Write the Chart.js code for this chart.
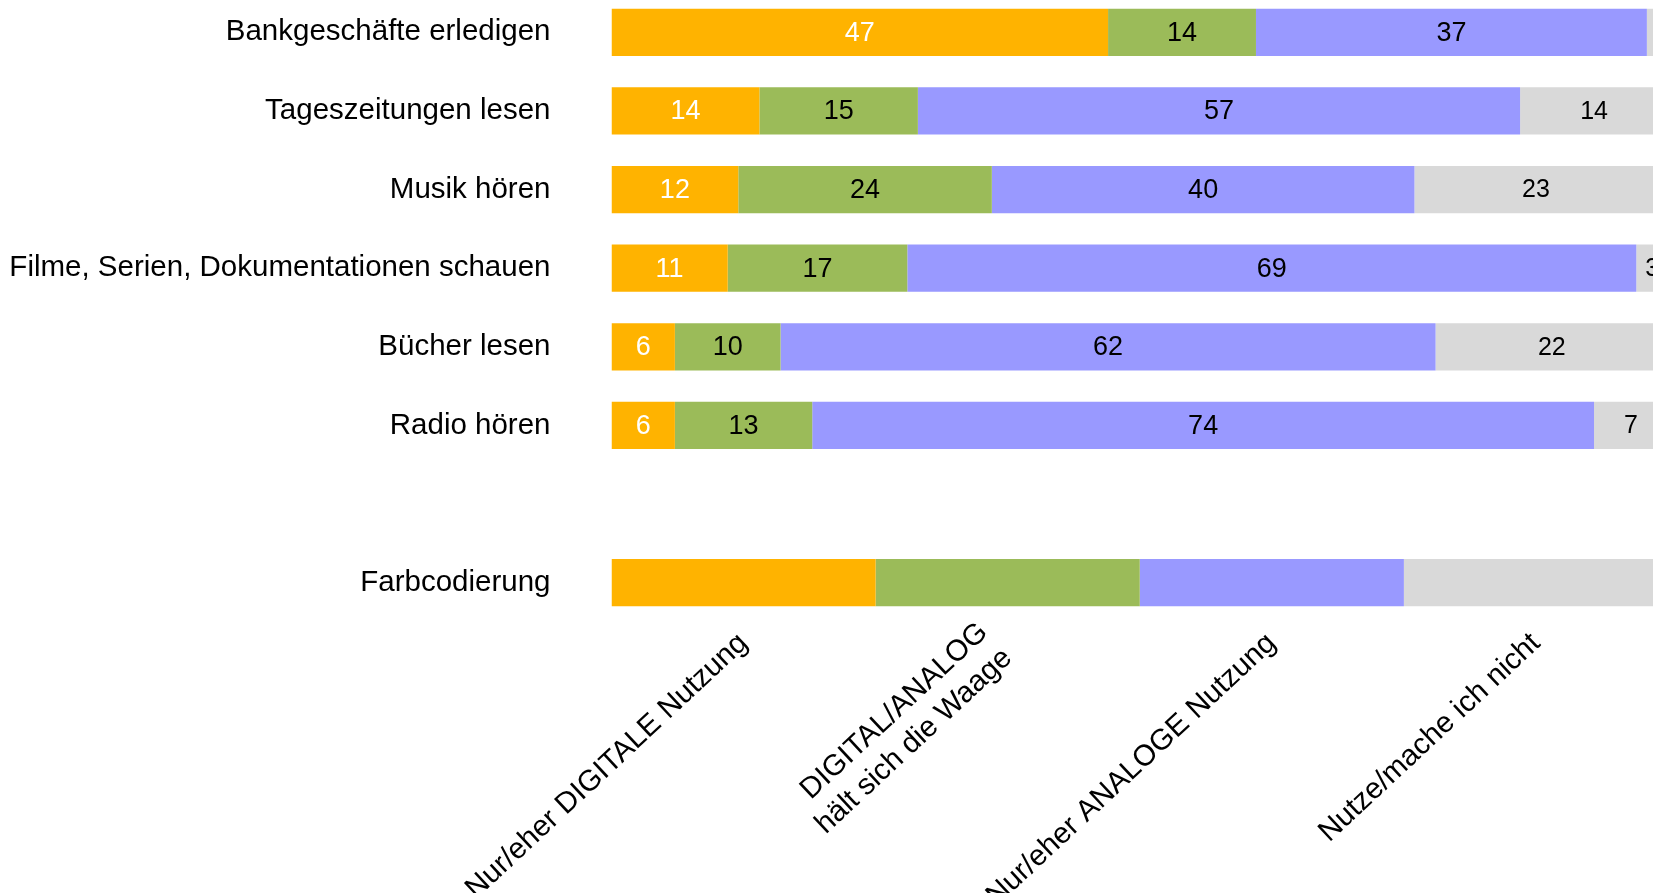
<!DOCTYPE html>
<html lang="de">
<head>
    <meta charset="UTF-8">
    <title>Digitale und analoge Nutzung</title>
    <script src="https://cdn.jsdelivr.net/npm/chart.js"></script>
</head>
<style>
html, body {
  margin: 0;
  padding: 0;
  overflow: hidden;
  background: #fff;
}
#myChart {
  position: absolute;
  left: 0;
  top: -7px;
}
</style>
<body>
    <canvas id="myChart" width="1668" height="900"></canvas>
</body>
<script>
// rows (empty row is the gap above the colour key)
const categories = ['Bankgeschäfte erledigen', 'Tageszeitungen lesen', 'Musik hören',
    'Filme, Serien, Dokumentationen schauen', 'Bücher lesen', 'Radio hören', '', 'Farbcodierung'];

// values in percent
const digital = [47, 14, 12, 11, 6, 6, null, 25];
const balance = [14, 15, 24, 17, 10, 13, null, 25];
const analog  = [37, 57, 40, 69, 62, 74, null, 25];
const notUsed = [3, 14, 23, 3, 22, 7, null, 25];

// labels under the colour key
const keyLabels = ['Nur/eher DIGITALE Nutzung', ['DIGITAL/ANALOG', 'hält sich die Waage'],
    'Nur/eher ANALOGE Nutzung', 'Nutze/mache ich nicht'];
// single line labels on one axis, the two line one on another (centred block)
const keySingle = keyLabels.map(l => Array.isArray(l) ? '' : l);
const keyMulti = keyLabels.map(l => Array.isArray(l) ? l : '');

const colors = ['#FFB300', '#9BBB59', '#9999FF', '#D9D9D9'];
const labelColors = ['#ffffff', '#000000', '#000000', '#000000'];
const FONT = "'Liberation Sans', Arial, sans-serif";

// write the numbers into the segments
const valueLabels = {
    id: 'valueLabels',
    afterDatasetsDraw(chart) {
        const ctx = chart.ctx;
        ctx.save();
        ctx.textAlign = 'center';
        ctx.textBaseline = 'middle';
        chart.data.datasets.forEach((ds, i) => {
            const meta = chart.getDatasetMeta(i);
            meta.data.forEach((bar, j) => {
                const v = ds.data[j];
                if (v == null || categories[j] === 'Farbcodierung') return;
                ctx.fillStyle = labelColors[i];
                ctx.font = (i === 3 ? '25px ' : '27px ') + FONT;
                ctx.fillText(String(v), (bar.x + bar.base) / 2, bar.y + 1);
            });
        });
        ctx.restore();
    }
};

function keyAxis(labels, mirror, padding, weight) {
    return {
        type: 'category',
        labels: labels,
        position: 'bottom',
        offset: true,
        weight: weight,
        grid: { display: false, drawTicks: false },
        border: { display: false },
        ticks: {
            autoSkip: false,
            maxRotation: 43,
            minRotation: 43,
            mirror: mirror,
            padding: padding,
            color: '#000',
            font: { family: FONT, size: 29.5 }
        },
        afterFit(scale) {
            scale.height = weight ? 271 : 0;
            scale.paddingLeft = 0;
            scale.paddingRight = 0;
        }
    };
}

const ctx = document.getElementById('myChart').getContext('2d');
const myChart = new Chart(ctx, {
    type: 'bar',
    data: {
        labels: categories,
        datasets: [
            { label: keyLabels[0], data: digital, backgroundColor: colors[0] },
            { label: 'DIGITAL/ANALOG hält sich die Waage', data: balance, backgroundColor: colors[1] },
            { label: keyLabels[2], data: analog, backgroundColor: colors[2] },
            { label: keyLabels[3], data: notUsed, backgroundColor: colors[3] }
        ]
    },
    options: {
        indexAxis: 'y',
        responsive: false,
        animation: false,
        barPercentage: 0.6,
        categoryPercentage: 1,
        layout: { padding: 0 },
        plugins: {
            legend: { display: false },
            tooltip: { enabled: false }
        },
        scales: {
            x: {
                stacked: true,
                min: 0,
                max: 100,
                display: false
            },
            x2: keyAxis(keySingle, false, 4, 10),
            x3: keyAxis(keyMulti, true, -19, 0),
            y: {
                stacked: true,
                grid: { display: false, drawTicks: false },
                border: { display: false },
                ticks: {
                    autoSkip: false,
                    padding: 61,
                    color: '#000',
                    font: { family: FONT, size: 29.5 }
                },
                afterFit(scale) {
                    scale.width = 611.5;
                    scale.paddingTop = 0;
                    scale.paddingBottom = 0;
                }
            }
        }
    },
    plugins: [valueLabels]
});
</script>
</html>
